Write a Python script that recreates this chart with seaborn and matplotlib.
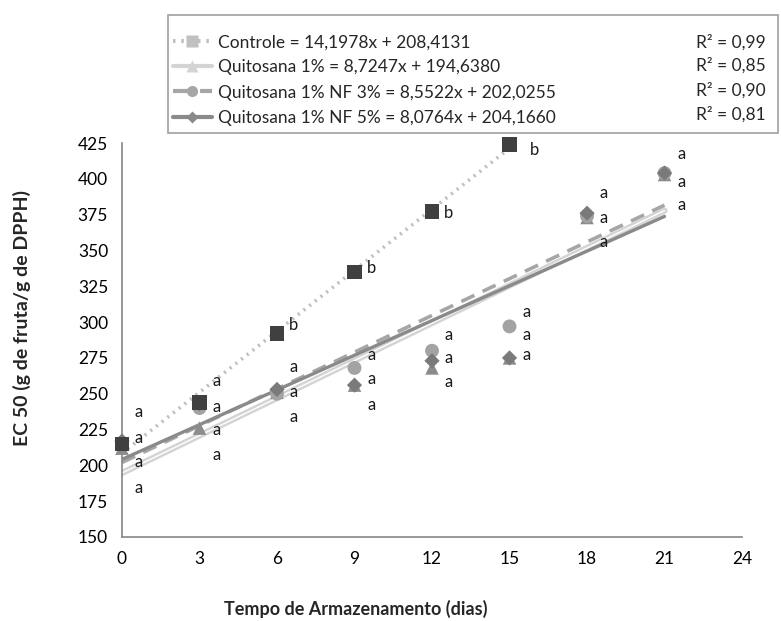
import numpy as np
import pandas as pd
import matplotlib
matplotlib.use("Agg")
import matplotlib.pyplot as plt
import seaborn as sns
from matplotlib.lines import Line2D
from matplotlib.patches import Rectangle

# dados
dias = [0, 3, 6, 9, 12, 15, 18, 21]
controle = [215, 244, 292, 335, 377, 424]
quitosana = [212, 226, 251, 256, 268, 275, 373, 403]
nf3 = [215, 240, 250, 268, 280, 297, 374, 404]
nf5 = [217, 243, 253, 256, 273, 275, 376, 404]

nomes = ["Controle", "Quitosana 1%", "Quitosana 1% NF 3%", "Quitosana 1% NF 5%"]
inclinacao = [14.1978, 8.7247, 8.5522, 8.0764]
intercepto = [208.4131, 194.6380, 202.0255, 204.1660]
r2 = ["0,99", "0,85", "0,90", "0,81"]
fim_reta = [15, 21, 21, 21]

let_dia = [0, 0, 0, 0, 3, 3, 3, 3, 6, 6, 6, 6, 9, 9, 9, 9,
           12, 12, 12, 12, 15, 15, 15, 15, 18, 18, 18, 21, 21, 21]
let_y = [237, 219, 202, 184, 259, 241, 225, 207, 298, 269, 251, 234,
         338, 277, 260, 242, 376, 291, 275, 258, 420, 307, 291, 277,
         390, 373, 356, 417, 398, 382]
let_txt = list("aaaa" "aaaa" "baaa" "baaa" "baaa" "baaa" "aaa" "aaa")

sns.set_style("white")
plt.rcParams["font.family"] = ["Lato", "DejaVu Sans"]

fig = plt.figure(figsize=(7.81, 6.21), dpi=100)
ax = fig.add_axes([0.1562, 0.1353, 0.7939, 0.6344])

# retas de tendencia
cor_reta = ["#c0c0c0", "#d4d4d4", "#a6a6a6", "#8a8a8a"]
for i in range(4):
    xr = np.array([0, fim_reta[i]])
    yr = inclinacao[i] * xr + intercepto[i]
    if i == 0:
        sns.lineplot(x=xr, y=yr, ax=ax, color=cor_reta[i], lw=2.6,
                     linestyle=(0, (0.6, 1.4)), zorder=2)
    elif i == 1:
        sns.lineplot(x=xr, y=yr, ax=ax, color=cor_reta[i], lw=4.5, zorder=2)
        sns.lineplot(x=xr, y=yr, ax=ax, color="white", lw=1.0, zorder=2)
    elif i == 2:
        sns.lineplot(x=xr, y=yr, ax=ax, color=cor_reta[i], lw=2.6,
                     linestyle=(0, (4, 2.5)), zorder=2)
    else:
        sns.lineplot(x=xr, y=yr, ax=ax, color=cor_reta[i], lw=2.4, zorder=2)

# pontos
sns.scatterplot(x=dias, y=quitosana, ax=ax, marker="^", s=95, color="#8c8c8c",
                edgecolor="none", zorder=3, clip_on=False)
sns.scatterplot(x=dias, y=nf3, ax=ax, marker="o", s=100, color="#a3a3a3",
                edgecolor="none", zorder=4, clip_on=False)
sns.scatterplot(x=dias, y=nf5, ax=ax, marker="D", s=60, color="#7a7a7a",
                edgecolor="none", zorder=5, clip_on=False)
sns.scatterplot(x=dias[:6], y=controle, ax=ax, marker="s", s=110, color="#404040",
                edgecolor="none", zorder=6, clip_on=False)

for d, yv, t in zip(let_dia, let_y, let_txt):
    dx = 0.95 if (t == "b" and d == 15) else 0.65
    ax.text(d + dx, yv, t, ha="center", va="center", fontsize=12,
            color="#1a1a1a", zorder=7)

ax.set_xlim(0, 24)
ax.set_ylim(150, 425)
ax.set_xticks(range(0, 25, 3))
ax.set_yticks(range(150, 426, 25))
for s in ["top", "right"]:
    ax.spines[s].set_visible(False)
for s in ["left", "bottom"]:
    ax.spines[s].set_color("#868686")
    ax.spines[s].set_linewidth(1.2)
ax.tick_params(direction="out", length=6, width=1.2, color="#868686",
               labelsize=12.5, labelcolor="black", pad=4)
ax.set_xlabel("Tempo de Armazenamento (dias)", fontsize=13, fontweight="bold")
ax.set_ylabel("EC 50 (g de fruta/g de DPPH)", fontsize=14, fontweight="bold")
ax.xaxis.set_label_coords(0.377, -0.16)
ax.yaxis.set_label_coords(-0.147, 0.556)

# legenda
marc = ["s", "^", "o", "D"]
estilo = [(0, (0.6, 1.4)), "-", (0, (4, 2.5)), "-"]
handles = []
labels = []
for i in range(4):
    handles.append(Line2D([0], [0], color=cor_reta[i], lw=3, linestyle=estilo[i],
                          marker=marc[i], markersize=8 if i != 3 else 6,
                          markerfacecolor=cor_reta[i], markeredgecolor="none"))
    lab = f"{nomes[i]} = {inclinacao[i]:.4f}x + {intercepto[i]:.4f}"
    labels.append(lab.replace(".", ","))
leg = fig.legend(handles, labels, loc="upper left",
                 bbox_to_anchor=(0.222, 0.945), fontsize=12.5,
                 frameon=False, handlelength=2.2,
                 labelspacing=0.53, borderpad=0.0, handletextpad=0.35,
                 borderaxespad=0.0)
fig.patches.append(Rectangle((168 / 781, 1 - 133 / 621), 610 / 781, 118 / 621,
                             transform=fig.transFigure, fill=False,
                             ec="#a0a0a0", lw=1.2))

r2_y = [0.932, 0.895, 0.855, 0.815]
for i in range(4):
    fig.text(0.98, r2_y[i], f"R² = {r2[i]}", ha="right", va="center",
             fontsize=12.5, zorder=10)

fig.savefig("out.png", dpi=100)
